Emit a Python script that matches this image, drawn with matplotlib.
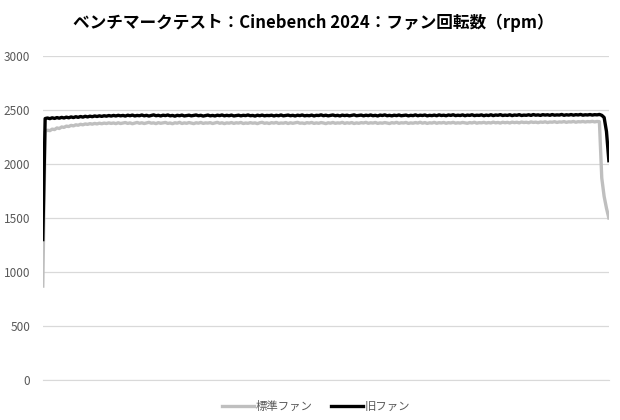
import matplotlib
matplotlib.use("Agg")
import matplotlib.pyplot as plt
import numpy as np

plt.rcParams['font.family'] = ['Noto Sans CJK JP', 'DejaVu Sans']

title = "ベンチマークテスト：Cinebench 2024：ファン回転数（rpm）"
series_names = ["標準ファン", "旧ファン"]
yticks = [0, 500, 1000, 1500, 2000, 2500, 3000]

standard_fan = [
    870,
    2300, 2312, 2308, 2322, 2318, 2333, 2328, 2342, 2338, 2350,
    2346, 2357, 2352, 2362, 2358, 2367, 2362, 2370, 2366, 2373,
    2368, 2375, 2370, 2377, 2372, 2378, 2374, 2380, 2375, 2379,
    2373, 2381, 2374, 2379, 2383, 2375, 2380, 2372, 2378, 2384,
    2376, 2381, 2374, 2379, 2385, 2377, 2380, 2373, 2382, 2376,
    2380, 2384, 2375, 2379, 2372, 2381, 2377, 2385, 2374, 2380,
    2376, 2383, 2378, 2373, 2381, 2377, 2384, 2375, 2380, 2378,
    2382, 2374, 2379, 2385, 2376, 2381, 2373, 2380, 2377, 2383,
    2375, 2381, 2378, 2384, 2374, 2379, 2376, 2382, 2377, 2380,
    2373, 2381, 2385, 2376, 2380, 2374, 2382, 2378, 2384, 2375,
    2379, 2377, 2383, 2374, 2381, 2376, 2380, 2385, 2377, 2379,
    2374, 2382, 2378, 2384, 2375, 2380, 2376, 2383, 2379, 2373,
    2381, 2377, 2384, 2376, 2380, 2378, 2385, 2375, 2381, 2377,
    2383, 2374, 2380, 2376, 2382, 2379, 2385, 2376, 2381, 2378,
    2384, 2375, 2380, 2377, 2383, 2379, 2374, 2382, 2378, 2385,
    2376, 2381, 2379, 2384, 2375, 2380, 2377, 2383, 2378, 2386,
    2377, 2383, 2375, 2381, 2378, 2385, 2376, 2382, 2379, 2384,
    2376, 2382, 2379, 2385, 2377, 2381, 2378, 2384, 2380, 2376,
    2383, 2379, 2386, 2377, 2382, 2380, 2385, 2378, 2383, 2379,
    2387, 2380, 2384, 2378, 2386, 2381, 2385, 2379, 2387, 2382,
    2386, 2380, 2388, 2383, 2386, 2381, 2389, 2384, 2387, 2382,
    2388, 2385, 2390, 2383, 2388, 2386, 2391, 2384, 2389, 2387,
    2392, 2385, 2390, 2388, 2393, 2386, 2391, 2389, 2393, 2388,
    2392, 2390, 2394, 2389, 2393, 2391, 1870, 1700, 1590, 1500,
]

old_fan = [
    1300,
    2420, 2425, 2419, 2427, 2421, 2429, 2423, 2431, 2425, 2433,
    2427, 2435, 2429, 2437, 2431, 2439, 2433, 2441, 2435, 2442,
    2437, 2444, 2439, 2445, 2440, 2446, 2442, 2448, 2443, 2449,
    2444, 2450, 2445, 2449, 2443, 2451, 2446, 2452, 2444, 2449,
    2446, 2453, 2445, 2450, 2443, 2448, 2454, 2446, 2450, 2444,
    2451, 2447, 2453, 2445, 2449, 2442, 2450, 2446, 2452, 2444,
    2448, 2451, 2445, 2449, 2453, 2446, 2450, 2443, 2448, 2452,
    2445, 2449, 2444, 2451, 2447, 2453, 2445, 2450, 2446, 2452,
    2444, 2448, 2451, 2445, 2450, 2447, 2453, 2446, 2449, 2443,
    2451, 2446, 2452, 2445, 2449, 2447, 2451, 2444, 2450, 2446,
    2453, 2445, 2449, 2452, 2446, 2450, 2444, 2451, 2447, 2453,
    2445, 2449, 2446, 2452, 2444, 2450, 2448, 2454, 2446, 2451,
    2445, 2449, 2453, 2446, 2450, 2444, 2452, 2447, 2451, 2445,
    2450, 2454, 2446, 2449, 2452, 2445, 2451, 2447, 2453, 2446,
    2450, 2444, 2452, 2448, 2454, 2446, 2450, 2445, 2451, 2447,
    2453, 2446, 2449, 2452, 2445, 2450, 2447, 2454, 2446, 2451,
    2448, 2453, 2445, 2450, 2447, 2452, 2446, 2454, 2448, 2451,
    2446, 2453, 2449, 2455, 2447, 2451, 2448, 2454, 2446, 2452,
    2449, 2455, 2447, 2451, 2449, 2454, 2446, 2452, 2448, 2455,
    2447, 2453, 2450, 2456, 2448, 2452, 2449, 2455, 2447, 2453,
    2450, 2456, 2448, 2452, 2450, 2455, 2449, 2457, 2451, 2454,
    2449, 2456, 2452, 2455, 2450, 2457, 2451, 2454, 2452, 2458,
    2450, 2455, 2452, 2457, 2451, 2456, 2453, 2458, 2451, 2455,
    2453, 2457, 2452, 2456, 2454, 2458, 2450, 2430, 2300, 2030,
]

fig = plt.figure(figsize=(6.2, 4.2), dpi=100)
ax = fig.add_axes([0.069, 0.095, 0.913, 0.772])

x_std = np.arange(len(standard_fan))
x_old = np.arange(len(old_fan))
ax.plot(x_std, standard_fan, color="#bfbfbf", lw=2.4, solid_joinstyle="round",
        label=series_names[0], zorder=3)
ax.plot(x_old, old_fan, color="#000000", lw=2.4, solid_joinstyle="round",
        label=series_names[1], zorder=4)

ax.set_xlim(0, max(len(standard_fan), len(old_fan)) - 1)
ax.set_ylim(0, 3000)
ax.set_yticks(yticks)
ax.set_yticklabels([str(v) for v in yticks], fontsize=8.5, color="#595959")
ax.set_xticks([])
ax.yaxis.grid(True, color="#d9d9d9", lw=0.9)
ax.set_axisbelow(True)
for s in ["top", "right", "left"]:
    ax.spines[s].set_visible(False)
ax.spines["bottom"].set_color("#d9d9d9")
ax.tick_params(axis="y", length=0, pad=9)

fig.text(0.505, 0.945, title, ha="center", va="center", fontsize=12,
         fontweight="bold", color="#000000")

leg = fig.legend(loc="center", bbox_to_anchor=(0.51, 0.032), ncol=2,
                 frameon=False, fontsize=8.2, handlelength=2.8,
                 columnspacing=1.6, handletextpad=0.15)
for t in leg.get_texts():
    t.set_color("#595959")

fig.savefig("out.png", dpi=100)
